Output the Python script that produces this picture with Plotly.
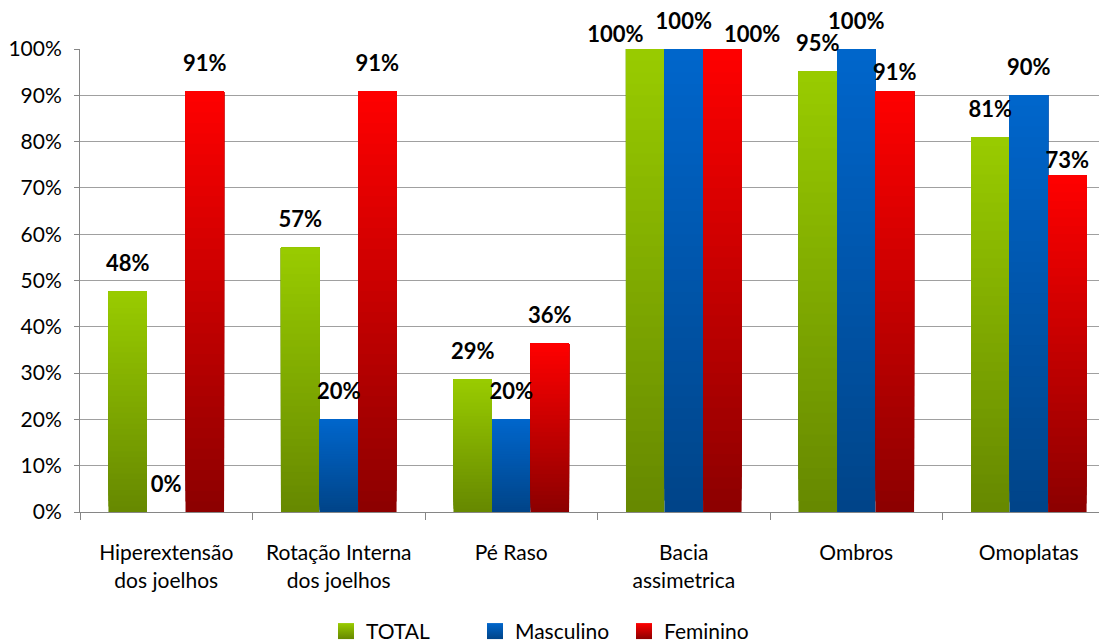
import plotly.graph_objects as go

categories = ["Hiperextensão<br>dos joelhos", "Rotação Interna<br>dos joelhos", "Pé Raso",
              "Bacia<br>assimetrica", "Ombros", "Omoplatas"]
series_names = ["TOTAL", "Masculino", "Feminino"]
total = [47.6, 57.1, 28.6, 100.0, 95.2, 81.0]
masculino = [0.0, 20.0, 20.0, 100.0, 100.0, 90.0]
feminino = [90.9, 90.9, 36.4, 100.0, 90.9, 72.7]
y_ticks = [0, 10, 20, 30, 40, 50, 60, 70, 80, 90, 100]

series_values = [total, masculino, feminino]
top_colors = [(0x99, 0xCC, 0x00), (0x00, 0x66, 0xCC), (0xFF, 0x00, 0x00)]
bottom_colors = [(0x66, 0x88, 0x00), (0x00, 0x44, 0x88), (0x8C, 0x00, 0x00)]
# label distance (marker size of invisible anchor) and placement per point
label_sizes = [
    [22, 22, 22, 1, 22, 22],
    [22, 22, 22, 22, 22, 22],
    [22, 22, 22, 1, 8, 1],
]
label_pos = [
    ["top center"] * 3 + ["top left"] + ["top center"] * 2,
    ["top center"] * 6,
    ["top center"] * 3 + ["top right"] + ["top center"] * 2,
]

FONT = "Lato"
N = 40

def mix(c1, c2, t):
    return "rgb(%d,%d,%d)" % tuple(round(a + (b - a) * t) for a, b in zip(c1, c2))

fig = go.Figure()
for si, (name, vals) in enumerate(zip(series_names, series_values)):
    for k in range(N):
        t = (k + 0.5) / N
        # each slice runs from its own start up to the bar top; upper slices cover lower ones
        fig.add_trace(go.Bar(
            x=categories,
            y=[v * (N - k) / N for v in vals],
            base=[v * k / N for v in vals],
            offsetgroup=name,
            legendgroup=name,
            name=name,
            showlegend=False,
            marker=dict(color=mix(bottom_colors[si], top_colors[si], t), line=dict(width=0)),
            hoverinfo="skip",
        ))

for si, (name, vals) in enumerate(zip(series_names, series_values)):
    fig.add_trace(go.Scatter(
        x=categories,
        y=vals,
        mode="markers+text",
        text=["%d%%" % round(v) for v in vals],
        textposition=label_pos[si],
        textfont=dict(family=FONT, size=22, color="black", weight="bold"),
        marker=dict(size=label_sizes[si], opacity=0),
        offsetgroup=name,
        showlegend=False,
        cliponaxis=False,
        hoverinfo="skip",
    ))

# legend entries (gradient squares)
for si, name in enumerate(series_names):
    fig.add_trace(go.Scatter(
        x=[None], y=[None],
        mode="markers",
        name=name,
        legendgroup=name,
        offsetgroup=name,
        marker=dict(symbol="square", size=16,
                    color=mix(top_colors[si], top_colors[si], 0),
                    gradient=dict(type="vertical", color=mix(bottom_colors[si], bottom_colors[si], 0))),
        hoverinfo="skip",
    ))

fig.update_layout(
    width=1099, height=643,
    margin=dict(l=80, r=0, t=49, b=131),
    paper_bgcolor="white", plot_bgcolor="white",
    barmode="group", bargap=0.33, bargroupgap=0,
    scattermode="group", scattergap=0.33,
    font=dict(family=FONT, size=21, color="black"),
    legend=dict(orientation="h", xref="container", x=0.5, xanchor="center",
                yref="container", y=0.018, yanchor="middle",
                entrywidth=104, entrywidthmode="pixels", itemsizing="trace",
                font=dict(family=FONT, size=21), traceorder="normal"),
    xaxis=dict(type="category", range=[-0.5, 5.407], tickson="boundaries",
               ticks="outside", ticklen=7, tickcolor="#868686",
               showline=True, linecolor="#868686", linewidth=1,
               showgrid=False, ticklabelstandoff=22),
    yaxis=dict(range=[0, 100], tickvals=y_ticks, ticktext=["%d%%" % v for v in y_ticks],
               ticks="outside", ticklen=5, tickcolor="#868686",
               showline=True, linecolor="#868686", linewidth=1,
               showgrid=True, gridcolor="#A0A0A0", gridwidth=1,
               zeroline=False, ticklabelstandoff=8),
)

fig.write_html("out.html", config={"displayModeBar": False},
               post_script="document.body.style.margin='0px';")
